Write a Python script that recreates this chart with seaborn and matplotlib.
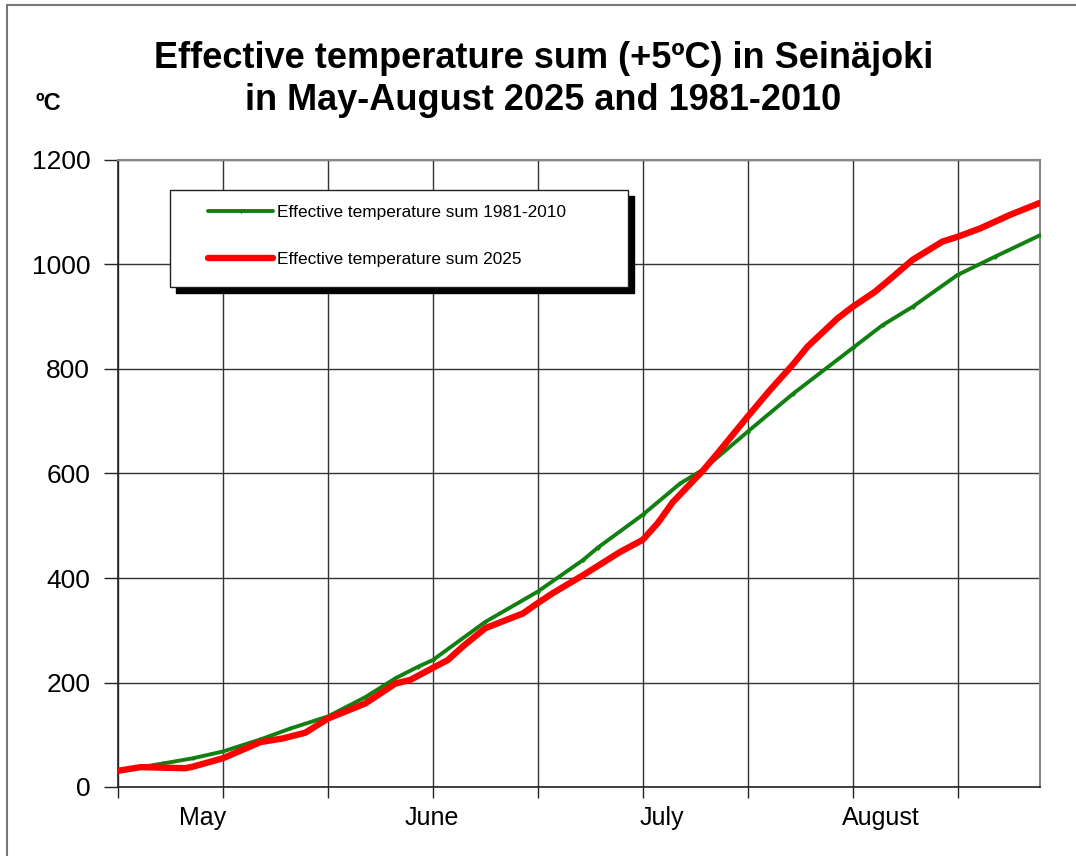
import pandas as pd
import matplotlib.pyplot as plt
from matplotlib.lines import Line2D
from matplotlib.patches import Rectangle
import seaborn as sns

# Day index 0 = start of May
green_days = [0, 3, 6, 10, 14, 19, 23, 28, 33, 37, 40, 42, 49, 56, 62, 64, 70, 75, 78,
              84, 90, 98, 102, 106, 112, 117, 123]
green_vals = [30, 38, 45, 55, 68, 91, 112, 135, 172, 208, 230, 243, 316, 374, 434, 458,
              521, 581, 607, 680, 752, 840, 884, 919, 980, 1015, 1056]

red_days = [0, 3, 6, 9, 10, 14, 19, 22, 25, 28, 33, 37, 39, 42, 44, 46, 49, 54, 56,
            58, 62, 65, 67, 70, 72, 74, 78, 80, 84, 87, 90, 92, 96, 98, 101, 103,
            106, 110, 112, 115, 119, 123]
red_vals = [31, 38, 37, 36, 39, 55, 86, 93, 104, 131, 160, 198, 205, 228, 243, 269,
            304, 332, 352, 371, 405, 432, 450, 473, 505, 545, 605, 639, 709, 760,
            808, 843, 897, 919, 948, 972, 1009, 1044, 1053, 1069, 1095, 1118]

month_labels = ['May', 'June', 'July', 'August']
month_pos = [11.3, 41.9, 72.6, 101.7]
grid_days = [0, 14, 28, 42, 56, 70, 84, 98, 112]
y_ticks = [0, 200, 400, 600, 800, 1000, 1200]

label_green = 'Effective temperature sum 1981-2010'
label_red = 'Effective temperature sum 2025'

sns.set_style('white')
plt.rcParams['font.family'] = ['Liberation Sans', 'DejaVu Sans']
plt.rcParams['text.color'] = 'black'
plt.rcParams['xtick.color'] = 'black'
plt.rcParams['ytick.color'] = 'black'

fig = plt.figure(figsize=(10.76, 8.56), dpi=100)
ax = fig.add_axes([118 / 1076, 1 - 787 / 856, 922 / 1076, 627 / 856])

df_g = pd.DataFrame({'day': green_days, 'value': green_vals})
df_r = pd.DataFrame({'day': red_days, 'value': red_vals})

sns.lineplot(data=df_g, x='day', y='value', ax=ax, color='#118011', lw=2.8,
             marker='D', markersize=2.5, markeredgewidth=0, label=label_green, zorder=3)
sns.lineplot(data=df_r, x='day', y='value', ax=ax, color='#ff0000', lw=4.6,
             label=label_red, zorder=4)

ax.set_xlim(0, 123)
ax.set_ylim(0, 1200)
ax.set_xticks(grid_days)
ax.set_xticklabels([])
ax.set_xticks(month_pos, minor=True)
ax.set_xticklabels(month_labels, minor=True, fontsize=18)
ax.tick_params(axis='x', which='major', direction='out', length=8, width=1, color='#222222', bottom=True)
ax.tick_params(axis='x', which='minor', length=0, pad=14)
ax.set_yticks(y_ticks)
ax.set_yticklabels([str(v) for v in y_ticks], fontsize=19)
ax.tick_params(axis='y', direction='out', length=10, width=1, color='#222222', left=True, pad=10)
ax.set_xlabel('')
ax.set_ylabel('')
ax.grid(True, which='major', color='#333333', lw=1)

for side in ['left', 'bottom']:
    ax.spines[side].set_color('#222222')
    ax.spines[side].set_linewidth(1.2)
for side in ['top', 'right']:
    ax.spines[side].set_color('#888888')
    ax.spines[side].set_linewidth(1.5)

# legend box with hard black shadow
bx0, bx1 = (170 - 118) / 922, (628 - 118) / 922
by0, by1 = (787 - 287) / 627, (787 - 190) / 627
ax.add_patch(Rectangle((bx0 + 6 / 922, by0 - 6 / 627), bx1 - bx0, by1 - by0,
                       transform=ax.transAxes, facecolor='black', edgecolor='black', zorder=5))
ax.add_patch(Rectangle((bx0, by0), bx1 - bx0, by1 - by0, transform=ax.transAxes,
                       facecolor='white', edgecolor='#222222', lw=1, zorder=6))
leg = ax.legend(loc='upper left', bbox_to_anchor=((208 - 118) / 922, (787 - 205) / 627),
                frameon=False, fontsize=12.4, handlelength=3.8, handletextpad=0.2,
                labelspacing=1.85, borderpad=0, borderaxespad=0)
leg.set_zorder(7)

fig.text(0.505, 0.932, 'Effective temperature sum (+5ºC) in Seinäjoki', ha='center',
         va='center', fontsize=26, fontweight='bold')
fig.text(0.505, 0.883, 'in May-August 2025 and 1981-2010', ha='center',
         va='center', fontsize=26, fontweight='bold')
fig.text(48 / 1076, 1 - 103 / 856, 'ºC', ha='center', va='center', fontsize=17, fontweight='bold')

# outer frame (top and left edge)
fig.add_artist(Line2D([7 / 1076, 1], [1 - 5 / 856, 1 - 5 / 856], color='#777777', lw=1.5))
fig.add_artist(Line2D([7 / 1076, 7 / 1076], [0, 1 - 5 / 856], color='#777777', lw=1.5))

plt.savefig('out.png', dpi=100)
